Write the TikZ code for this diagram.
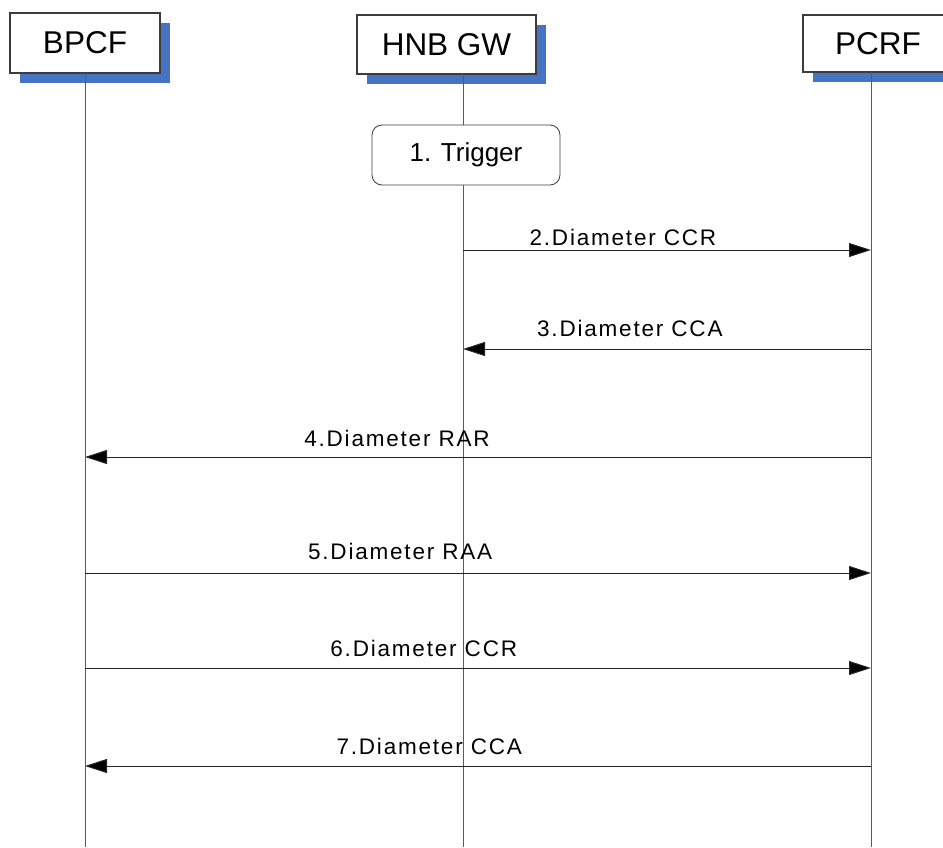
\documentclass[tikz,border=0pt]{standalone}
\usepackage{fontspec}
\setmainfont{Liberation Sans}
\newfontfamily\msgfont[LetterSpace=8]{Liberation Sans}
\usetikzlibrary{arrows.meta, shadows}
\definecolor{shadowblue}{HTML}{4674C3}
\definecolor{framegray}{HTML}{3C3C3C}
\definecolor{linegray}{HTML}{5A5A5A}

\begin{document}
\begin{tikzpicture}[
    x=1pt, y=-1pt,
    entity/.style={draw=framegray, fill=white, line width=1.1pt, inner sep=0pt,
        font=\fontsize{31.5}{31.5}\selectfont,
        general shadow={fill=shadowblue, shadow xshift=10pt, shadow yshift=-10pt}},
    triggerbox/.style={draw=framegray, fill=white, line width=0.8pt, rounded corners=10pt,
        minimum width=188pt, minimum height=60pt, font=\fontsize{26}{26}\selectfont},
    lifeline/.style={draw=linegray, line width=1pt},
    msg/.style={draw=black!85, line width=1pt, -{Triangle[length=22pt, width=14pt, fill=black]}},
    msglabel/.style={font=\msgfont\fontsize{22.5}{22.5}\selectfont, inner sep=0pt}
]
    \useasboundingbox (0,0) rectangle (943,847);

    % entities
    \node[entity, minimum width=150pt, minimum height=60pt] (bpcf) at (85,43) {BPCF};
    \node[entity, minimum width=179pt, minimum height=59pt] (hnb) at (446.5,44.5) {HNB GW};
    \node[entity, minimum width=150pt, minimum height=57pt] (pcrf) at (878,43.5) {PCRF};

    % lifelines
    \coordinate (bpcf-l) at (85,73);
    \coordinate (hnb-l) at (463,74);
    \coordinate (pcrf-l) at (871,72);
    \coordinate (bottom) at (0,847);
    \foreach \e in {bpcf, hnb, pcrf}
        \draw[lifeline] (\e-l) -- (\e-l |- bottom);

    \node[triggerbox] (trigger) at (466,155) {1. Trigger};

    % messages
    \foreach \y/\from/\to/\txt/\p/\gap in {
        250/hnb/pcrf/2.Diameter CCR/0.392/4,
        349/pcrf/hnb/3.Diameter CCA/0.591/12,
        457/pcrf/bpcf/4.Diameter RAR/0.603/10,
        573/bpcf/pcrf/5.Diameter RAA/0.401/13,
        668/bpcf/pcrf/6.Diameter CCR/0.431/11,
        766/pcrf/bpcf/7.Diameter CCA/0.562/11}
    {
        \coordinate (m\y) at (0,\y);
        \draw[msg] (\from-l |- m\y) -- (\to-l |- m\y)
            node[msglabel, pos=\p, above=\gap pt] {\txt};
    }
\end{tikzpicture}
\end{document}
